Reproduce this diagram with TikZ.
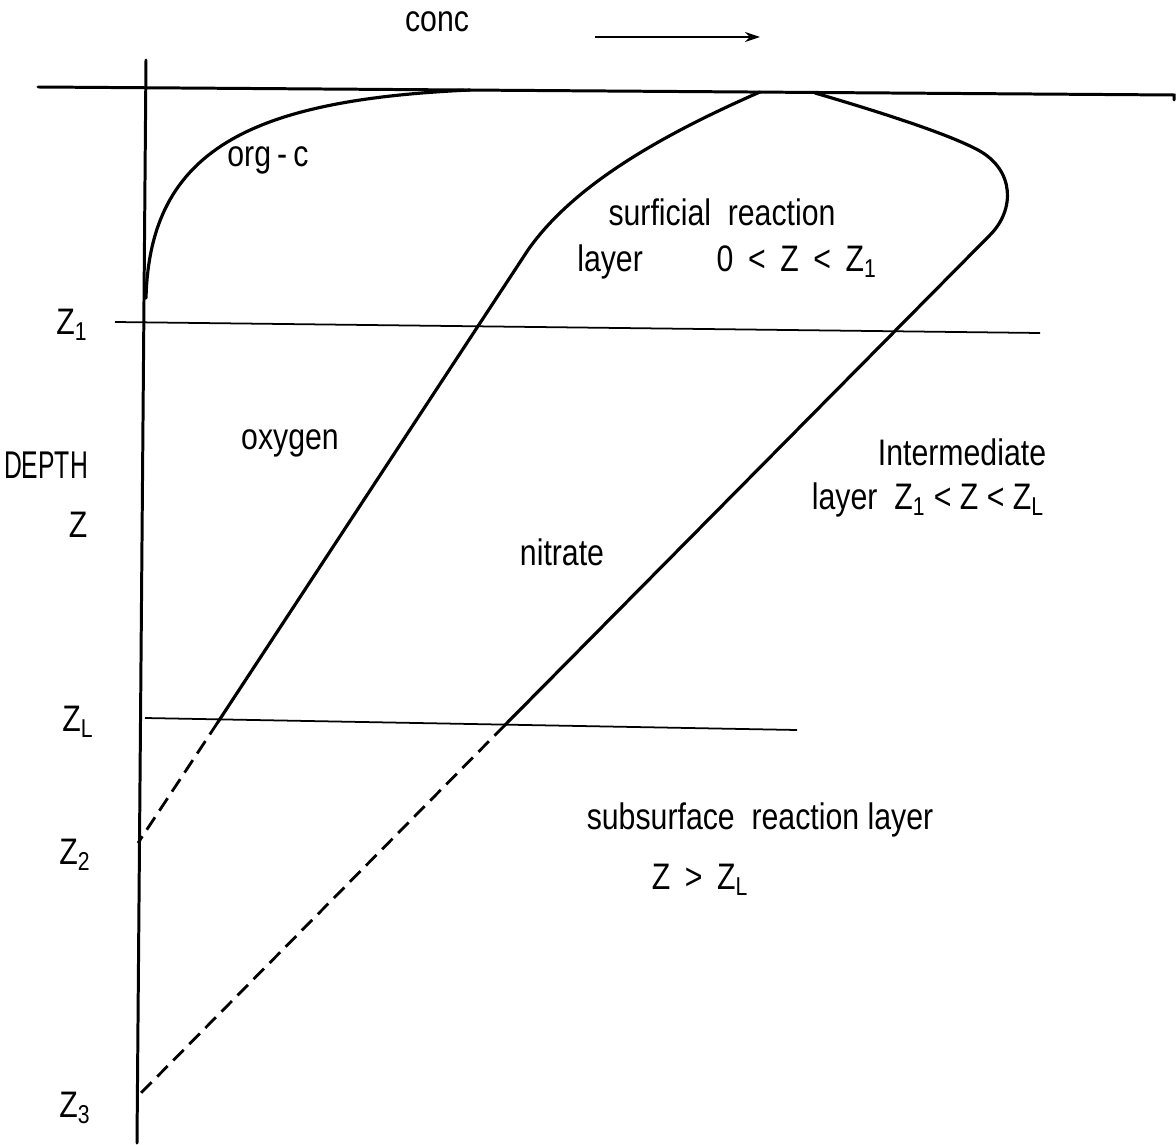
\documentclass[tikz,border=0pt]{standalone}
\usepackage{fontspec}
\setmainfont{Liberation Sans}[FakeStretch=0.82]
\newfontfamily\narrowfont{Liberation Sans}[FakeStretch=0.64]
\usetikzlibrary{arrows.meta,positioning,calc}
\tikzset{
  axisln/.style={line width=1.7pt, line cap=round},
  curveln/.style={line width=1.8pt, line cap=round, line join=round},
  levelln/.style={line width=1.0pt},
  extrapln/.style={dash pattern=on 8.5pt off 4.5pt, line width=1.6pt},
  guide/.style={-{Stealth[length=3mm,width=2mm]}, line width=1.0pt},
  lbl/.style={font=\fontsize{21}{25}\selectfont, inner sep=0pt},
}
\newcommand{\wsp}{\ \,}
\begin{document}
\begin{tikzpicture}[x=0.02cm, y=-0.02cm]
    \useasboundingbox (0,0) rectangle (1176,1145);
    % axes
    \draw[axisln] (146,60) -- (137,1143);
    \draw[axisln] (38,87) -- (1174,95) -- ++(0,5);
    % depth levels
    \draw[levelln] (115,322) -- (1040,333);
    \draw[levelln] (145,718) -- (797,730);
    % direction of concentration
    \node[lbl] (conc) at (437,22) {conc};
    \coordinate (arrs) at (595,37);
    \coordinate (arre) at (760,37);
    \draw[guide] (arrs) -- (arre);
    % org-c profile
    \draw[curveln] (146,298) .. controls (150,150) and (250,100) .. (470,90);
    % oxygen profile
    \draw[curveln] (760,92) .. controls (650,140) and (570,190) .. (528,250)
      -- (218,722);
    \draw[extrapln] (218,722) -- (138,843);
    % nitrate profile
    \draw[curveln] (815,93) .. controls (890,115) and (950,135) .. (978,150)
      .. controls (1015,170) and (1015,210) .. (990,235) -- (505,725);
    \draw[extrapln] (505,725) -- (137,1097);
    % depth labels
    \node[lbl, font=\fontsize{22}{26}\narrowfont] (depth) at (46,465) {DEPTH};
    \node[lbl] (zlab) at (78,525) {Z};
    \node[lbl] (z1) at (72,325) {Z\textsubscript{1}};
    \node[lbl] (zl) at (78,722) {Z\textsubscript{L}};
    \node[lbl] (z2) at (75,855) {Z\textsubscript{2}};
    \node[lbl] (z3) at (75,1108) {Z\textsubscript{3}};
    % curve and layer labels
    \node[lbl] (orgc) at (268,160) {org\,-\,c};
    \node[lbl] (oxy) at (290,443) {oxygen};
    \node[lbl] (nitr) at (562,552) {nitrate};
    \node[lbl] (surf) at (722,212) {surficial\ \ reaction};
    \node[lbl] (surfz) at (727,262) {layer\qquad 0\wsp<\wsp Z\wsp<\wsp Z\textsubscript{1}};
    \node[lbl] (inter) at (962,452) {Intermediate};
    \node[lbl] (interz) at (928,500) {layer\ \ Z\textsubscript{1}\ <\ Z < Z\textsubscript{L}};
    \node[lbl] (subs) at (760,820) {subsurface\ \ reaction layer};
    \node[lbl] (subsz) at (700,880) {Z\wsp>\wsp Z\textsubscript{L}};
\end{tikzpicture}
\end{document}
